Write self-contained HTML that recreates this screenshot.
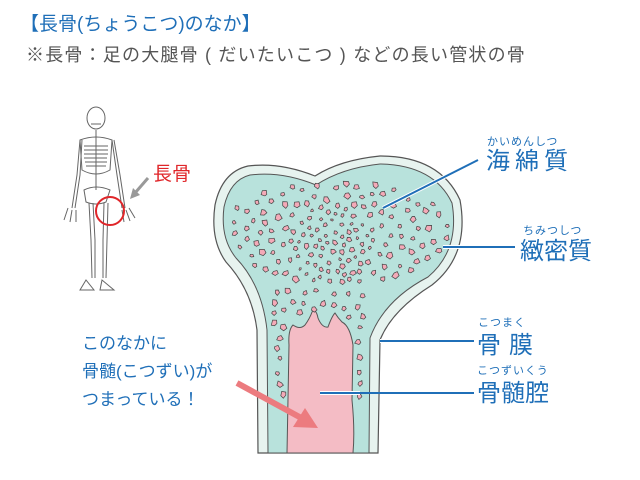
<!DOCTYPE html>
<html><head><meta charset="utf-8"><style>
body{margin:0;width:640px;height:480px;background:#fff;overflow:hidden;position:relative;font-family:"Liberation Sans","Noto Sans CJK JP",sans-serif}
.t{position:absolute;white-space:nowrap}
.b{color:#1f6fb8}
</style></head><body>
<div class="t b" style="left:20px;top:9px;font-size:19px;">【長骨(ちょうこつ)のなか】</div>
<div class="t" style="left:26px;top:41px;font-size:18px;letter-spacing:1.2px;color:#555;">※長骨：足の大腿骨 ( だいたいこつ ) などの長い管状の骨</div>

<svg width="640" height="480" style="position:absolute;left:0;top:0">
<g stroke="#666" stroke-width="1" fill="none">
<ellipse cx="96" cy="118" rx="9" ry="11" fill="#fff"/>
<path d="M91 124h10"/>
<line x1="96" y1="130" x2="96" y2="190"/>
<path d="M80 140 Q96 134 112 140 L110 170 Q96 178 82 170 Z"/>
<path d="M84 146h24M84 150h24M84 154h24M84 158h23M85 162h22M86 166h20"/>
<path d="M80 140 L77 175 L72 208"/><path d="M82 140 L80 175 L75 208"/>
<path d="M112 140 L117 175 L122 208"/><path d="M114 140 L120 175 L125 208"/>
<path d="M84 190 Q96 184 110 190 L106 202 Q96 206 86 202 Z"/>
<path d="M89 203 L91 240 L92 278"/><path d="M93 203 L95 240 L95 278"/>
<path d="M104 203 L103 240 L103 278"/><path d="M108 203 L107 240 L106 278"/>
<path d="M86 280 l-6 10 h14z"/><path d="M102 280 l-2 10 h14z"/>
<path d="M68 208 l-4 12 M72 210 l-2 12 M76 210 l0 12 M122 210 l2 12 M126 210 l4 11 M129 208 l6 10"/>
</g>
<circle cx="110" cy="211" r="14" fill="none" stroke="#e0262a" stroke-width="2"/>
<line x1="148" y1="178" x2="135" y2="193" stroke="#999" stroke-width="3"/>
<polygon points="130,199 133,188 140,195" fill="#999"/>
<text x="153" y="180" font-size="19" fill="#e0262a" font-family="Liberation Sans,Noto Sans CJK JP,sans-serif">長骨</text>

<path d="M258 453 L257 330 Q252 290 226 262 Q210 240 215 205 Q222 172 248 166 Q280 162 315 176 Q340 160 380 156 Q440 156 460 200 Q470 255 432 285 Q392 310 380 340 L378 453 Z" fill="#e7f3ef" stroke="#555" stroke-width="1.2"/>
<path d="M268 453 L267 330 Q262 285 236 258 Q220 238 224 207 Q230 180 250 175 Q282 171 316 185 Q342 168 380 164 Q434 165 452 203 Q460 250 428 277 Q384 300 370 338 L369 453 Z" fill="#b8e2dc" stroke="#555" stroke-width="1"/>
<path d="M287 453 L289 345 Q288 330 293 325 Q300 330 305 325 Q310 318 312 312 Q316 308 318 318 Q322 328 328 327 Q332 316 335 313 Q338 318 342 322 Q350 326 353 345 L352 400 Q355 430 353 453 Z" fill="#f4bcc5" stroke="#555" stroke-width="1"/>
<g id="spots" fill="#f4aab8" stroke="#444" stroke-width="0.7"></g>
<g stroke="#fff" stroke-width="4"><line x1="383" y1="208" x2="478" y2="160"/><line x1="443" y1="247" x2="470" y2="247"/><line x1="380" y1="341" x2="400" y2="341"/><line x1="320" y1="393" x2="360" y2="393"/></g>
<g stroke="#1f6fb8" stroke-width="2"><line x1="383" y1="208" x2="478" y2="160"/><line x1="443" y1="247" x2="515" y2="247"/><line x1="380" y1="341" x2="474" y2="341"/><line x1="320" y1="393" x2="474" y2="393"/></g>
<line x1="237" y1="383" x2="305" y2="420" stroke="#ec7b7f" stroke-width="6"/>
<polygon points="318,428 293,427 305,408" fill="#ec7b7f"/>
</svg>

<div class="t b" style="left:487px;top:133px;font-size:11px;letter-spacing:1px">かいめんしつ</div>
<div class="t b" style="left:486px;top:141px;font-size:24px;letter-spacing:5px">海綿質</div>
<div class="t b" style="left:523px;top:222px;font-size:11px;letter-spacing:1px">ちみつしつ</div>
<div class="t b" style="left:520px;top:231px;font-size:24px;">緻密質</div>
<div class="t b" style="left:478px;top:314px;font-size:11px;letter-spacing:1px">こつまく</div>
<div class="t b" style="left:477px;top:325px;font-size:24px;letter-spacing:8px">骨膜</div>
<div class="t b" style="left:477px;top:362px;font-size:11px;letter-spacing:1px">こつずいくう</div>
<div class="t b" style="left:477px;top:373px;font-size:24px;">骨髄腔</div>

<div class="t b" style="left:82px;top:330px;font-size:17px;line-height:28px">このなかに<br>骨髄(こつずい)が<br>つまっている！</div>

<script>
var g=document.getElementById('spots'),s=12345;
function r(){s=(s*16807)%2147483647;return s/2147483647;}
function inside(x,y){
 if(y<182||y>400)return false;
 if(y<290){var cx=338,cy=228;var dx=(x-cx)/112,dy=(y-cy)/(y<228?46:56);if(x<232||x>448)return false;return dx*dx+dy*dy<1;}
 if(x<274||x>364)return false;
 if(y>318&&x>284&&x<357)return false;
 if(y>312&&x>300&&x<345)return false;
 return true;}
var pts0=[],tries=0;
while(pts0.length<300&&tries<40000){tries++;var x=225+r()*230,y=180+r()*220;if(!inside(x,y))continue;
 var d=Math.hypot(x-330,y-245);var md=d<40?7:10;var ok=true;
 for(var i=0;i<pts0.length;i++){if(Math.hypot(pts0[i][0]-x,pts0[i][1]-y)<md){ok=false;break;}}
 if(!ok)continue;pts0.push([x,y]);
 var sz=1.4+r()*1.6+(d>40?0.6:0);
 var pts=[];for(var k=0;k<5;k++){var a=k*1.2566+r()*0.5;var rr=sz*(0.7+r()*0.5);pts.push((x+Math.cos(a)*rr).toFixed(1)+','+(y+Math.sin(a)*rr).toFixed(1));}
 var p=document.createElementNS('http://www.w3.org/2000/svg','polygon');p.setAttribute('points',pts.join(' '));g.appendChild(p);}
</script>
</body></html>
